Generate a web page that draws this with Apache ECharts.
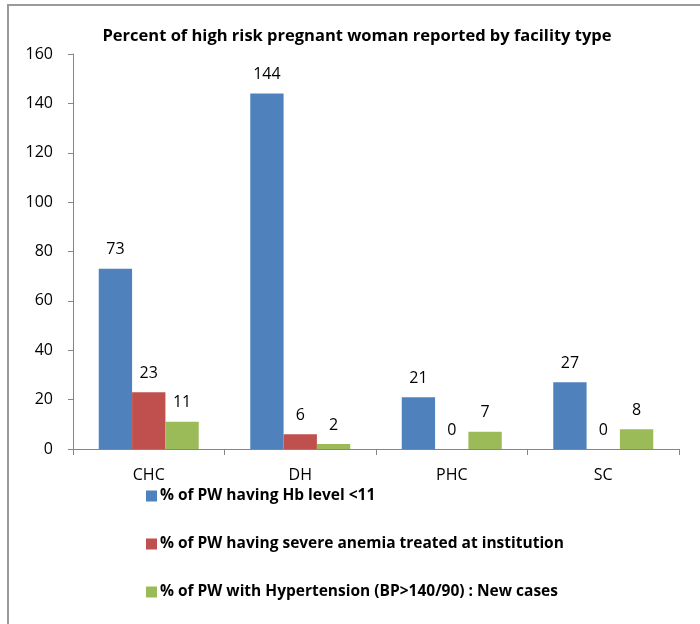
<!DOCTYPE html>
<html><head><meta charset="utf-8">
<script src="https://cdn.jsdelivr.net/npm/echarts@6/dist/echarts.min.js"></script>
<style>html,body{margin:0;padding:0;background:#fff}#c{width:700px;height:624px}</style>
</head><body><div id="c"></div>
<script>
var categories = ['CHC', 'DH', 'PHC', 'SC'];
var hbLow = [73, 144, 21, 27];
var severeAnemia = [23, 6, 0, 0];
var hypertension = [11, 2, 7, 8];
var seriesNames = ['% of PW having Hb level <11', '% of PW having severe anemia treated at institution', '% of PW with Hypertension (BP>140/90) : New cases'];
var colors = ['#4F81BD', '#C0504D', '#9BBB59'];
var FONT = 'Open Sans';

var chart = echarts.init(document.getElementById('c'));
function mk(name, data, color) {
  return {
    name: name, type: 'bar', data: data, barGap: '0%', barCategoryGap: '34%',
    itemStyle: { color: color },
    label: { show: true, position: 'top', distance: 11, color: '#000', fontSize: 16, fontFamily: FONT }
  };
}
chart.setOption({
  animation: false,
  textStyle: { fontFamily: FONT },
  title: {
    text: 'Percent of high risk pregnant woman reported by facility type',
    left: 352, top: 23, textAlign: 'center',
    textStyle: { fontSize: 16.5, fontWeight: 'bold', color: '#000', fontFamily: FONT }
  },
  legend: {
    orient: 'vertical', left: 141, top: 483, itemGap: 32,
    itemWidth: 11, itemHeight: 11, icon: 'rect',
    textStyle: { fontSize: 15.5, fontWeight: 'bold', color: '#000', fontFamily: FONT, padding: [0, 0, 0, -2] },
    data: seriesNames
  },
  grid: { left: 73, right: 21, top: 54, bottom: 175, containLabel: false },
  xAxis: {
    type: 'category', data: categories,
    axisLine: { lineStyle: { color: '#868686' } },
    axisTick: { show: true, alignWithLabel: false, length: 6, lineStyle: { color: '#868686' } },
    axisLabel: { color: '#000', fontSize: 16, margin: 18, fontFamily: FONT }
  },
  yAxis: {
    type: 'value', min: 0, max: 160, interval: 20,
    axisLine: { show: true, lineStyle: { color: '#868686' } },
    axisTick: { show: true, length: 5, lineStyle: { color: '#868686' } },
    splitLine: { show: false },
    axisLabel: { color: '#000', fontSize: 16, margin: 20, fontFamily: FONT }
  },
  series: [
    mk(seriesNames[0], hbLow, colors[0]),
    mk(seriesNames[1], severeAnemia, colors[1]),
    mk(seriesNames[2], hypertension, colors[2])
  ],
  graphic: [
    { type: 'line', shape: { x1: 8, y1: 5, x2: 8, y2: 624 }, style: { stroke: '#9a9a9a', lineWidth: 2 } },
    { type: 'line', shape: { x1: 7, y1: 5, x2: 700, y2: 5 }, style: { stroke: '#9a9a9a', lineWidth: 2 } }
  ]
});
</script></body></html>
